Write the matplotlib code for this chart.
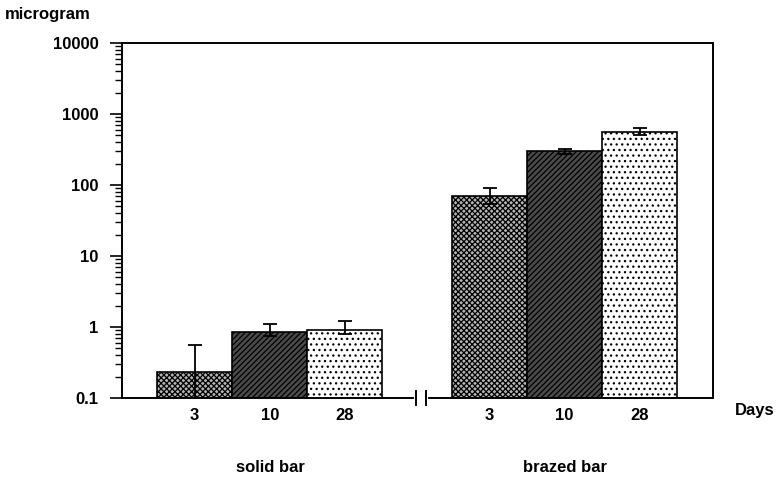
import matplotlib
matplotlib.use('Agg')
import matplotlib.pyplot as plt
import numpy as np

# values (microgram, log scale)
days = ['3', '10', '28']
groups = ['solid bar', 'brazed bar']
solid_vals = [0.23, 0.86, 0.92]
solid_err_lo = [0.2, 0.12, 0.12]
solid_err_hi = [0.33, 0.26, 0.30]
brazed_vals = [70, 300, 550]
brazed_err_lo = [16, 25, 50]
brazed_err_hi = [20, 25, 80]
y_ticks = [0.1, 1, 10, 100, 1000, 10000]
y_labels = ['0.1', '1', '10', '100', '1000', '10000']

faces = ['#b4b4b4', '#4a4a4a', '#ffffff']
hatches = ['xxxxxx', '//////', '...']

plt.rcParams['font.family'] = ['Liberation Sans', 'DejaVu Sans']
plt.rcParams['font.weight'] = 'bold'
plt.rcParams['hatch.linewidth'] = 0.9

fig = plt.figure(figsize=(7.84, 4.82), dpi=100)
ax = fig.add_axes([122 / 784, 1 - 398 / 482, 591 / 784, 355 / 482])

group_centers = [2.0, 5.93]
for gc, vals, lo, hi in zip(group_centers, [solid_vals, brazed_vals],
                            [solid_err_lo, brazed_err_lo], [solid_err_hi, brazed_err_hi]):
    xs = gc + np.array([-1, 0, 1])
    for i in range(3):
        ax.bar(xs[i], vals[i], width=1.0, bottom=0.001, color=faces[i], hatch=hatches[i],
               edgecolor='black', linewidth=1.2, zorder=2)
        ax.errorbar(xs[i], vals[i], yerr=[[lo[i]], [hi[i]]], fmt='none', ecolor='black',
                    elinewidth=1.3, capsize=5, capthick=1.3, zorder=3)

ax.set_yscale('log')
ax.set_ylim(0.1, 10000)
ax.set_xlim(0.03, 7.91)
ax.set_yticks(y_ticks)
ax.set_yticklabels(y_labels, fontsize=12, fontweight='bold')
ax.tick_params(axis='y', which='major', direction='out', length=9, width=1.2, pad=8)
ax.tick_params(axis='y', which='minor', direction='out', length=5, width=1.0)

xt = list(group_centers[0] + np.array([-1, 0, 1])) + list(group_centers[1] + np.array([-1, 0, 1]))
ax.set_xticks(xt)
ax.set_xticklabels(days + days, fontsize=12, fontweight='bold')
ax.tick_params(axis='x', length=0, pad=7)

for s in ax.spines.values():
    s.set_linewidth(1.4)

# axis break on the bottom spine
ax.plot([3.95, 4.08], [0.1, 0.1], color='white', linewidth=3, clip_on=False, zorder=5)
for bx in [3.95, 4.08]:
    ax.plot([bx, bx], [0.08, 0.125], color='black', linewidth=1.4, clip_on=False, zorder=6)

fig.text(5 / 784, 1 - 14 / 482, 'microgram', fontsize=12, fontweight='bold', va='center', ha='left')
fig.text(755 / 784, 1 - 410 / 482, 'Days', fontsize=12, fontweight='bold', va='center', ha='center')
fig.text(270 / 784, 1 - 467 / 482, groups[0], fontsize=12, fontweight='bold', va='center', ha='center')
fig.text(565 / 784, 1 - 467 / 482, groups[1], fontsize=12, fontweight='bold', va='center', ha='center')

fig.savefig('out.png', dpi=100)
